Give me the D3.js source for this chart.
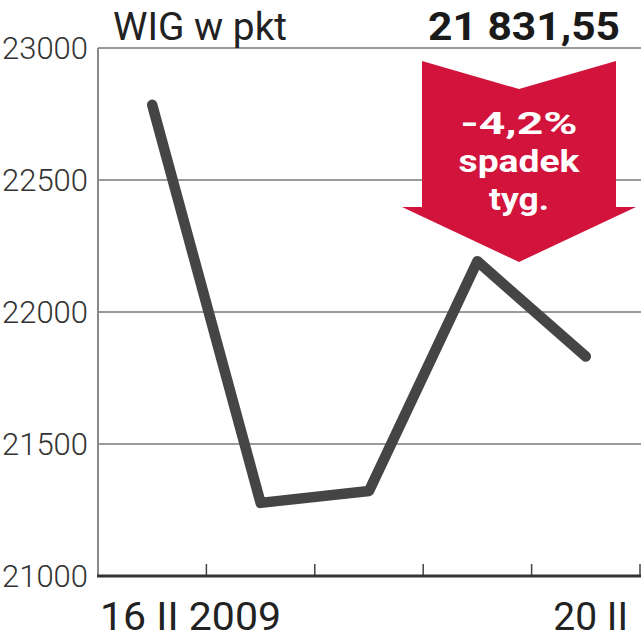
<!DOCTYPE html>
<html>
<head>
<meta charset="utf-8">
<script src="https://cdn.jsdelivr.net/npm/d3@7/dist/d3.min.js"></script>
<style>
html,body{margin:0;padding:0;background:#fff;}
svg{display:block;}
</style>
</head>
<body>
<svg id="chart" width="641" height="640"></svg>
<script>
// ---- data ----
const days = ["16 II 2009", "17 II", "18 II", "19 II", "20 II"];
const wigValues = [22785, 21277, 21322, 22192, 21831.55];
const yTicks = [21000, 21500, 22000, 22500, 23000];
const xLabels = ["16 II 2009", "20 II"];
const titleText = "WIG w pkt";
const lastValueText = "21 831,55";
const badgeLines = ["-4,2%", "spadek", "tyg."];

// ---- layout ----
const W = 641, H = 640;
const plot = {left: 98, right: 640, top: 48, bottom: 576};
const svg = d3.select("#chart");

const x = d3.scaleBand().domain(days).range([plot.left, plot.right]).padding(0);
const y = d3.scaleLinear().domain([21000, 23000]).range([plot.bottom, plot.top]);

// gridlines
svg.append("g").selectAll("line").data(yTicks.filter(d => d > 21000)).join("line")
  .attr("x1", plot.left).attr("x2", W)
  .attr("y1", d => y(d)).attr("y2", d => y(d))
  .attr("stroke", "#9a9a9a").attr("stroke-width", 2);

// y axis line
svg.append("line")
  .attr("x1", plot.left).attr("x2", plot.left)
  .attr("y1", y(23000)).attr("y2", y(21000))
  .attr("stroke", "#8a8a8a").attr("stroke-width", 2);

// y labels
svg.append("g").selectAll("text").data(yTicks).join("text")
  .attr("x", 88).attr("y", d => y(d))
  .attr("text-anchor", "end").attr("dominant-baseline", "central")
  .attr("font-family", "Roboto").attr("font-weight", 300)
  .attr("font-size", 31).attr("fill", "#333")
  .text(d => d);

// x axis ticks at band boundaries
svg.append("g").selectAll("line").data(days).join("line")
  .attr("x1", d => x(d) + x.bandwidth()).attr("x2", d => x(d) + x.bandwidth())
  .attr("y1", plot.bottom - 12).attr("y2", plot.bottom)
  .attr("stroke", "#444").attr("stroke-width", 1.5);

// x axis line
svg.append("line")
  .attr("x1", plot.left - 1).attr("x2", W)
  .attr("y1", plot.bottom).attr("y2", plot.bottom)
  .attr("stroke", "#333").attr("stroke-width", 3);

// x labels
svg.append("text").attr("x", plot.left + 2).attr("y", 630)
  .attr("font-family", "Roboto").attr("font-size", 39).attr("fill", "#222")
  .attr("textLength", 181).attr("lengthAdjust", "spacingAndGlyphs")
  .text(xLabels[0]);
svg.append("text").attr("x", 628).attr("y", 630)
  .attr("text-anchor", "end")
  .attr("font-family", "Roboto").attr("font-size", 39).attr("fill", "#222")
  .text(xLabels[1]);

// line
const line = d3.line().x((d, i) => x(days[i]) + x.bandwidth() / 2).y(d => y(d));
svg.append("path").datum(wigValues)
  .attr("d", line).attr("fill", "none")
  .attr("stroke", "#454545").attr("stroke-width", 10.5)
  .attr("stroke-linejoin", "round").attr("stroke-linecap", "round");

// title
svg.append("text").attr("x", 113).attr("y", 40)
  .attr("font-family", "Roboto").attr("font-size", 38).attr("fill", "#222")
  .attr("textLength", 174).attr("lengthAdjust", "spacingAndGlyphs")
  .text(titleText);
svg.append("text").attr("x", 620).attr("y", 40)
  .attr("text-anchor", "end")
  .attr("font-family", "Roboto").attr("font-weight", 700).attr("font-size", 39).attr("fill", "#1a1a1a")
  .attr("textLength", 192).attr("lengthAdjust", "spacingAndGlyphs")
  .text(lastValueText);

// badge arrow
const cx = 519;
const arrow = [
  [cx - 97, 61], [cx, 89], [cx + 97, 61], [cx + 97, 207], [cx + 117, 207],
  [cx, 262], [cx - 117, 207], [cx - 97, 207]
];
svg.append("path")
  .attr("d", d3.line()(arrow) + "Z")
  .attr("fill", "#d2143c");

const badgeY = [134, 172, 210];
const badgeW = [117, 121, 60];
svg.append("g").selectAll("text").data(badgeLines).join("text")
  .attr("x", cx).attr("y", (d, i) => badgeY[i])
  .attr("text-anchor", "middle")
  .attr("font-family", "Roboto").attr("font-weight", 700).attr("font-size", 32)
  .attr("fill", "#fff")
  .attr("textLength", (d, i) => badgeW[i]).attr("lengthAdjust", "spacingAndGlyphs")
  .text(d => d);
</script>
</body>
</html>
